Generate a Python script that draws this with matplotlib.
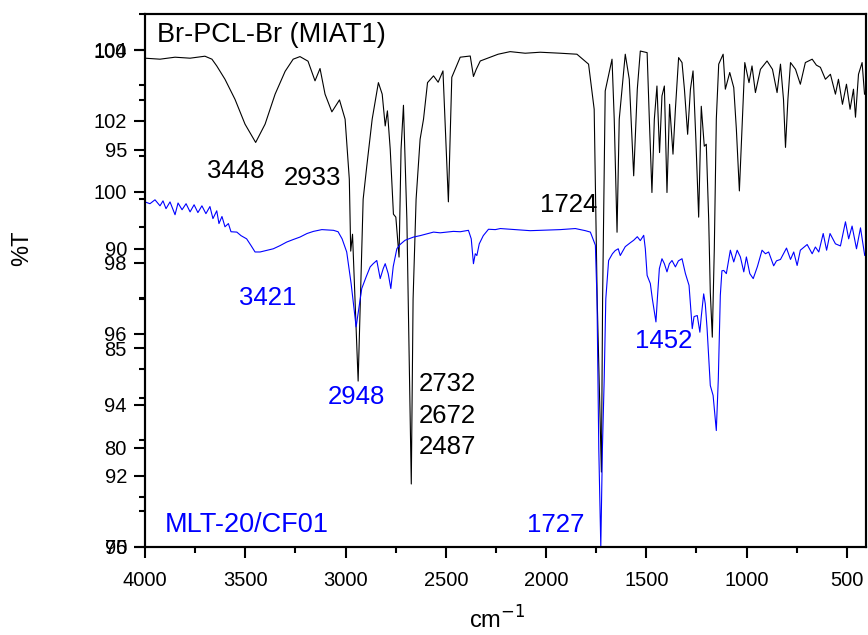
import matplotlib
matplotlib.use("Agg")
import matplotlib.pyplot as plt
from matplotlib.ticker import MultipleLocator

plt.rcParams['font.family'] = ['Liberation Sans', 'DejaVu Sans']

# ---- Br-PCL-Br (MIAT1), black, left scale 75..101.8 ----
wn_black = [4000, 3925, 3850, 3775, 3701, 3666, 3642, 3601, 3551, 3501, 3448, 3401, 3351, 3301,
            3261, 3227, 3187, 3152, 3127, 3102, 3068, 3030, 3002, 2981, 2974, 2965, 2937, 2912,
            2894, 2867, 2836, 2817, 2802, 2791, 2777, 2761, 2749, 2733, 2723, 2711, 2694, 2672,
            2663, 2648, 2628, 2611, 2591, 2561, 2538, 2514, 2487, 2470, 2428, 2378, 2362, 2348,
            2328, 2239, 2179, 2104, 2029, 1929, 1846, 1788, 1760, 1745, 1724, 1718, 1705, 1671,
            1660, 1646, 1635, 1605, 1585, 1563, 1545, 1530, 1496, 1485, 1472, 1460, 1447, 1434,
            1422, 1410, 1397, 1384, 1367, 1355, 1339, 1322, 1310, 1294, 1280, 1267, 1253, 1239,
            1226, 1211, 1201, 1189, 1181, 1171, 1161, 1151, 1139, 1117, 1106, 1084, 1064, 1051,
            1036, 1023, 1009, 988, 973, 956, 931, 898, 871, 848, 831, 816, 806, 794, 781, 756,
            732, 707, 673, 652, 632, 607, 582, 557, 542, 522, 502, 484, 467, 457, 442, 424, 412]
t_black = [99.60, 99.55, 99.65, 99.60, 99.70, 99.55, 99.21, 98.54, 97.53, 96.28, 95.36, 96.28, 97.79, 98.94,
           99.55, 99.68, 99.45, 98.46, 99.08, 97.79, 96.90, 97.50, 96.53, 93.51, 89.89, 90.74, 83.35, 92.50,
           94.16, 96.53, 98.37, 97.79, 96.19, 96.95, 95.02, 91.75, 91.60, 89.59, 95.02, 97.23, 91.50, 78.17,
           87.47, 92.50, 95.52, 96.53, 98.37, 98.71, 98.39, 98.96, 92.37, 98.64, 99.65, 99.71, 98.68, 99.04,
           99.46, 99.80, 99.93, 99.85, 99.90, 99.85, 99.80, 99.30, 97.03, 87.47, 78.77, 87.47, 97.95, 99.55,
           96.53, 90.84, 96.53, 99.80, 98.54, 93.68, 98.04, 99.96, 99.88, 96.53, 92.84, 96.53, 98.20, 94.85,
           97.70, 98.20, 92.84, 97.28, 94.77, 97.03, 99.63, 99.38, 98.04, 95.77, 98.04, 98.96, 95.52, 91.60,
           97.18, 95.17, 95.27, 91.50, 87.83, 85.56, 89.99, 96.53, 99.30, 99.80, 98.04, 98.88, 98.12, 96.03,
           92.92, 96.03, 99.38, 98.37, 99.21, 97.87, 99.04, 99.46, 99.04, 97.87, 99.30, 97.53, 95.11, 97.53, 99.38, 99.04,
           98.29, 99.38, 99.55, 99.25, 99.14, 98.54, 98.79, 97.79, 98.54, 97.28, 98.29, 97.03, 98.04, 96.63, 98.79, 99.38, 97.79]

# ---- MLT-20/CF01, blue, second scale 90..105 ----
wn_blue = [4000, 3975, 3950, 3925, 3910, 3895, 3875, 3850, 3835, 3815, 3795, 3775, 3755, 3736, 3716,
           3696, 3676, 3661, 3642, 3631, 3616, 3601, 3584, 3571, 3542, 3521, 3493, 3471, 3451, 3426,
           3396, 3360, 3326, 3293, 3261, 3227, 3192, 3160, 3118, 3060, 3037, 3017, 2994, 2972, 2947,
           2934, 2919, 2897, 2877, 2862, 2844, 2827, 2812, 2802, 2787, 2774, 2762, 2744, 2728, 2703,
           2661, 2628, 2561, 2528, 2462, 2428, 2387, 2373, 2362, 2353, 2345, 2333, 2313, 2287, 2253,
           2228, 2079, 1929, 1854, 1804, 1779, 1754, 1746, 1737, 1727, 1719, 1710, 1702, 1688, 1669,
           1655, 1640, 1630, 1605, 1580, 1563, 1545, 1530, 1513, 1505, 1496, 1480, 1470, 1452, 1445,
           1435, 1422, 1410, 1397, 1385, 1372, 1355, 1340, 1322, 1305, 1287, 1280, 1271, 1262, 1246,
           1233, 1226, 1214, 1206, 1197, 1181, 1167, 1151, 1141, 1131, 1123, 1114, 1101, 1081, 1064,
           1047, 1031, 1014, 1001, 984, 967, 946, 923, 906, 890, 865, 851, 831, 801, 781, 765, 748,
           732, 698, 673, 657, 640, 618, 601, 584, 557, 532, 507, 491, 474, 452, 432, 411, 406]
t_blue = [99.72, 99.67, 99.78, 99.61, 99.75, 99.53, 99.72, 99.36, 99.69, 99.50, 99.67, 99.44, 99.64, 99.42, 99.61,
          99.39, 99.59, 99.25, 99.47, 99.11, 99.31, 99.02, 99.11, 98.88, 98.87, 98.77, 98.68, 98.49, 98.31, 98.31,
          98.35, 98.40, 98.49, 98.59, 98.66, 98.73, 98.83, 98.89, 98.94, 98.92, 98.88, 98.68, 98.31, 97.42, 96.20,
          96.71, 97.28, 97.61, 97.89, 97.98, 98.07, 97.56, 97.84, 97.98, 97.70, 97.28, 97.90, 98.40, 98.52, 98.64,
          98.73, 98.77, 98.87, 98.85, 98.89, 98.88, 98.92, 98.68, 97.98, 98.26, 98.21, 98.54, 98.77, 98.95, 98.94,
          98.97, 98.91, 98.94, 98.97, 98.91, 98.87, 98.50, 96.99, 92.76, 90.00, 92.76, 94.74, 96.99, 98.07, 98.26,
          98.35, 98.40, 98.21, 98.46, 98.57, 98.64, 98.74, 98.63, 98.78, 98.40, 97.65, 97.42, 96.99, 96.34, 96.99,
          97.84, 98.12, 97.98, 97.75, 97.98, 98.07, 97.89, 98.06, 98.12, 97.70, 97.37, 96.85, 96.15, 96.49, 96.52,
          96.05, 96.49, 97.13, 96.85, 96.15, 94.55, 94.27, 93.28, 94.74, 97.09, 97.78, 97.79, 97.70, 98.36, 98.03,
          98.36, 98.17, 97.75, 98.17, 97.70, 97.56, 97.90, 98.36, 98.26, 98.31, 97.92, 98.06, 98.10, 98.42, 98.10, 98.31, 97.93,
          98.36, 98.52, 98.26, 98.45, 98.31, 98.83, 98.36, 98.83, 98.54, 98.48, 99.16, 98.68, 99.04, 98.40, 98.99, 98.21, 98.30]

x_ticks = [4000, 3500, 3000, 2500, 2000, 1500, 1000, 500]
y_ticks_black = [75, 80, 85, 90, 95, 100]
y_ticks_blue = [90, 92, 94, 96, 98, 100, 102, 104]

fig = plt.figure(figsize=(8.68, 6.35), dpi=100)
ax = fig.add_axes([0.1670, 0.1386, 0.8306, 0.8386])
ax.plot(wn_black, t_black, color='black', lw=0.8)
ax.set_xlim(4000, 405)
ax.set_ylim(75, 101.8)

ax2 = ax.twinx()
ax2.plot(wn_blue, t_blue, color='#0000ff', lw=0.8)
ax2.set_ylim(90, 105)
ax2.yaxis.set_ticks_position('left')
ax2.yaxis.set_label_position('left')

ax.set_xticks(x_ticks)
ax.xaxis.set_minor_locator(MultipleLocator(250))
ax.set_yticks(y_ticks_black)
ax.yaxis.set_minor_locator(MultipleLocator(2.5))
ax2.set_yticks(y_ticks_blue)
ax2.yaxis.set_minor_locator(MultipleLocator(1))

for a in (ax, ax2):
    a.tick_params(which='major', direction='out', length=8, width=1.5, labelsize=14.5, pad=5)
    a.tick_params(which='minor', direction='out', length=4.3, width=1.5)
    for s in a.spines.values():
        s.set_linewidth(1.5)
ax.tick_params(top=False, right=False)
ax.tick_params(axis='x', which='major', pad=9)

fig.text(22/868, 1-248/635, '%T', rotation=90, ha='center', va='center', fontsize=17)
fig.text(497/868, 1-620/635, 'cm$^{-1}$', ha='center', va='center', fontsize=17)

fs = 18.5
fl = 19.5
ax.text(0.0166, 0.9615, 'Br-PCL-Br (MIAT1)', transform=ax.transAxes, ha='left', va='center', fontsize=fl, color='black')
ax.text(0.1262, 0.706, '3448', transform=ax.transAxes, ha='center', va='center', fontsize=fs, color='black')
ax.text(0.2323, 0.692, '2933', transform=ax.transAxes, ha='center', va='center', fontsize=fs, color='black')
ax.text(0.5877, 0.6423, '1724', transform=ax.transAxes, ha='center', va='center', fontsize=fs, color='black')
ax.text(0.4196, 0.306, '2732', transform=ax.transAxes, ha='center', va='center', fontsize=fs, color='black')
ax.text(0.4196, 0.246, '2672', transform=ax.transAxes, ha='center', va='center', fontsize=fs, color='black')
ax.text(0.4196, 0.187, '2487', transform=ax.transAxes, ha='center', va='center', fontsize=fs, color='black')
ax.text(0.1699, 0.4685, '3421', transform=ax.transAxes, ha='center', va='center', fontsize=fs, color='#0000ff')
ax.text(0.294, 0.2808, '2948', transform=ax.transAxes, ha='center', va='center', fontsize=fs, color='#0000ff')
ax.text(0.7189, 0.3869, '1452', transform=ax.transAxes, ha='center', va='center', fontsize=fs, color='#0000ff')
ax.text(0.570, 0.0413, '1727', transform=ax.transAxes, ha='center', va='center', fontsize=fs, color='#0000ff')
ax.text(0.0277, 0.0413, 'MLT-20/CF01', transform=ax.transAxes, ha='left', va='center', fontsize=fl, color='#0000ff')

fig.savefig('out.png', dpi=100)
